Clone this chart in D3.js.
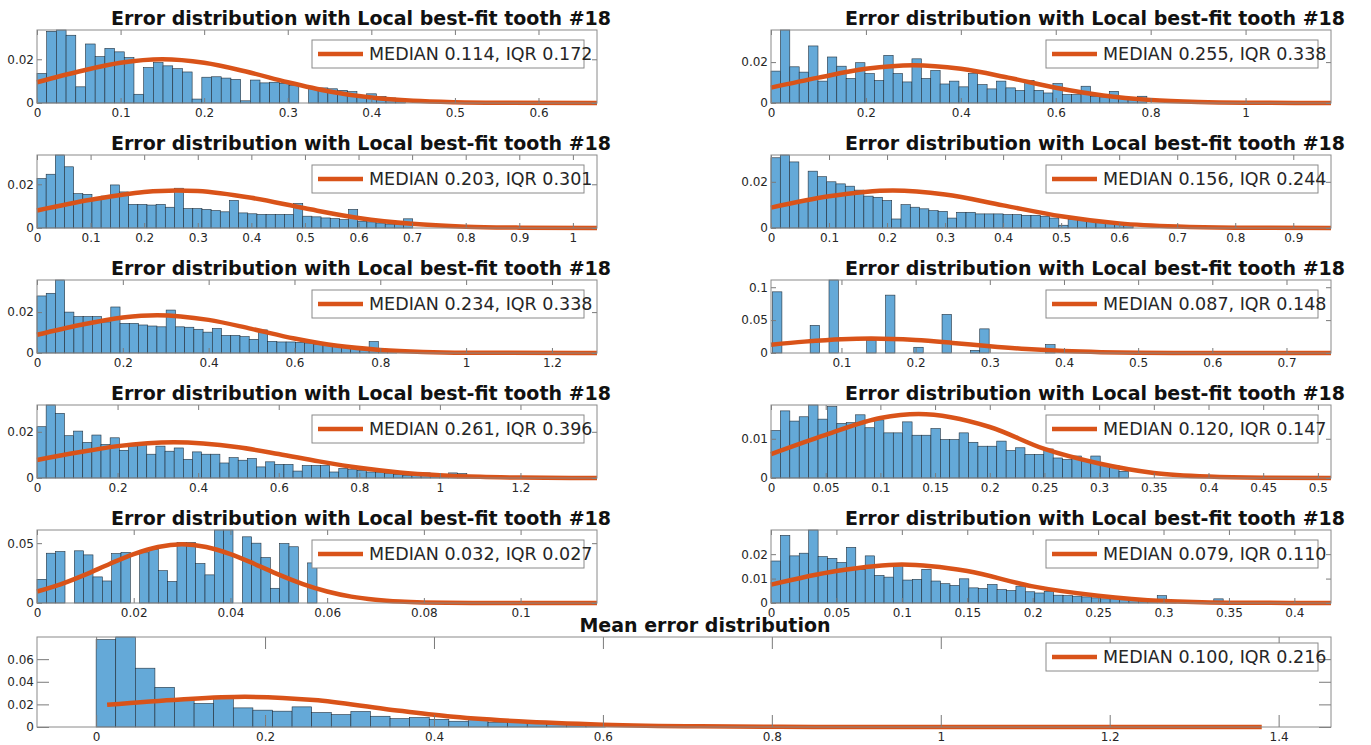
<!DOCTYPE html>
<html>
<head>
<meta charset="utf-8">
<script src="https://cdn.jsdelivr.net/npm/d3@7"></script>
<style>
body{margin:0;background:#fff}
svg{display:block}
</style>
</head>
<body>
<div id="chart"></div>
<script>
// histogram panels, row by row (left, right), then the mean panel last
var panelTitle = "Error distribution with Local best-fit tooth #18";
var meanTitle = "Mean error distribution";
var legendLabels = [
  "MEDIAN 0.114, IQR 0.172", "MEDIAN 0.255, IQR 0.338",
  "MEDIAN 0.203, IQR 0.301", "MEDIAN 0.156, IQR 0.244",
  "MEDIAN 0.234, IQR 0.338", "MEDIAN 0.087, IQR 0.148",
  "MEDIAN 0.261, IQR 0.396", "MEDIAN 0.120, IQR 0.147",
  "MEDIAN 0.032, IQR 0.027", "MEDIAN 0.079, IQR 0.110",
  "MEDIAN 0.100, IQR 0.216"
];
var xDomains = [[0,0.67],[0,1.18],[0,1.045],[0,0.965],[0,1.305],[0.005,0.76],[0,1.39],[0,0.512],[0,0.1158],[0,0.428],[-0.07,1.462]];
var xTicks = [
  [0,0.1,0.2,0.3,0.4,0.5,0.6],
  [0,0.2,0.4,0.6,0.8,1],
  [0,0.1,0.2,0.3,0.4,0.5,0.6,0.7,0.8,0.9,1],
  [0,0.1,0.2,0.3,0.4,0.5,0.6,0.7,0.8,0.9],
  [0,0.2,0.4,0.6,0.8,1,1.2],
  [0.1,0.2,0.3,0.4,0.5,0.6,0.7],
  [0,0.2,0.4,0.6,0.8,1,1.2],
  [0,0.05,0.1,0.15,0.2,0.25,0.3,0.35,0.4,0.45,0.5],
  [0,0.02,0.04,0.06,0.08,0.1],
  [0,0.05,0.1,0.15,0.2,0.25,0.3,0.35,0.4],
  [0,0.2,0.4,0.6,0.8,1,1.2,1.4]
];
var yTicks = [
  [0,0.02],[0,0.02],[0,0.02],[0,0.02],[0,0.02],[0,0.05,0.1],
  [0,0.02],[0,0.01],[0,0.05],[0,0.01,0.02],[0,0.02,0.04,0.06]
];
var binStarts = [0,0,0,0,0,0.007,0,0,0,0,0];
var binWidths = [0.0116,0.0198,0.0171,0.016,0.0215,0.0127,0.0227,0.0086,0.00193,0.0072,0.0232];

var counts1 = [0.0135,0.0328,0.0334,0.031,0.0074,0.027,0.0212,0.025,0.0234,0.0208,0.004,0.0162,0.0185,0.017,0.0157,0.0142,0.0018,0.0118,0.012,0.0114,0.0108,0.001,0.0105,0.0092,0.0095,0.009,0.008,0,0.0072,0.0069,0.0065,0.0058,0.0052,0.0035,0.0042,0.003,0.0023,0.002];
var counts2 = [0.0156,0.0357,0.0177,0.0151,0.0279,0.0107,0.0225,0.018,0.012,0.0197,0.0144,0.011,0.0233,0.0144,0.0103,0.0216,0.012,0.0159,0.0093,0.0107,0.0079,0.0144,0.009,0.0069,0.0107,0.0074,0.0061,0.0111,0.0062,0.0049,0.0095,0.0041,0.0041,0.0082,0.0033,0.003,0.0057,0.0025,0.0016,0.0033];
var counts3 = [0.0226,0.0246,0.0334,0.028,0.0157,0.0154,0.0131,0.0146,0.0197,0.0165,0.0108,0.0108,0.0105,0.0108,0.0095,0.0182,0.0089,0.0089,0.0085,0.008,0.0074,0.0126,0.0069,0.0065,0.0062,0.0062,0.0062,0.0062,0.0112,0.0054,0.0051,0.0046,0.0043,0.0038,0.0085,0.0031,0.0028,0.0023,0.0018,0.0018,0.0042];
var counts4 = [0.0304,0.0316,0.0286,0.012,0.0246,0.0222,0.02,0.0191,0.0181,0.0164,0.0138,0.0133,0.0119,0.0039,0.0101,0.009,0.0083,0.0075,0.0072,0.0043,0.0068,0.0068,0.0061,0.0061,0.0061,0.0058,0.0058,0.0055,0.0055,0.0051,0.0043,0.0012,0.0036,0.0033,0.0029,0.0026,0.0022,0.0017,0.0014];
var counts5 = [0.0279,0.0292,0.0357,0.020,0.0178,0.0178,0.0178,0.0152,0.0225,0.0145,0.0145,0.0137,0.0132,0.0128,0.021,0.0128,0.0126,0.0116,0.0102,0.012,0.0086,0.0086,0.008,0.0067,0.0113,0.0057,0.0054,0.0054,0.0052,0.0049,0.0044,0.004,0.0033,0.003,0.0028,0.0021,0.0056,0.0019,0.0016];
var counts6 = [0.093,0,0,0,0.042,0,0.111,0,0,0,0.019,0,0.088,0,0,0.0087,0,0,0.0587,0,0,0.004,0.0367,0,0,0,0,0,0,0.0128];
var counts7 = [0.0222,0.0316,0.028,0.0183,0.0203,0.0154,0.0186,0.0145,0.0174,0.012,0.0139,0.0149,0.0103,0.0138,0.0116,0.013,0.0081,0.0113,0.0103,0.0103,0.0065,0.0088,0.0077,0.0084,0.0048,0.007,0.0059,0.0059,0.003,0.0054,0.0054,0.0054,0.0026,0.0041,0.0036,0.0033,0.0026,0.0023,0.0019,0.0016,0.0012,0.0023,0.0022,0.0014,0.0012,0.0022,0.0019,0.0007,0.0007];
var counts8 = [0.0121,0.0171,0.0145,0.0156,0.0186,0.015,0.0182,0.0139,0.0141,0.0161,0.0128,0.0148,0.0115,0.0115,0.0143,0.0109,0.0109,0.0126,0.0098,0.0098,0.0115,0.0091,0.0081,0.0081,0.0094,0.007,0.0077,0.006,0.006,0.0074,0.0051,0.0047,0.0056,0.0044,0.0056,0.0034,0.0032,0.0017];
var counts9 = [0.0198,0.0416,0.043,0,0.0436,0.0402,0.0218,0.0184,0.0413,0.0422,0,0.042,0.045,0.027,0.018,0.0506,0.0506,0.033,0.0235,0.061,0.061,0,0.0553,0.05,0.038,0.0123,0.0497,0.047,0,0.0335];
var counts10 = [0.0172,0.0277,0.0193,0.0204,0.0299,0.019,0.0183,0.0166,0.0228,0.0138,0.0193,0.0113,0.0106,0.0156,0.0094,0.0097,0.0138,0.009,0.0079,0.0072,0.0099,0.0062,0.0059,0.0076,0.0055,0.0051,0.0069,0.0046,0.0041,0.0048,0.0032,0.003,0.0028,0.0025,0.0021,0.0017,0.0017,0.0014,0.0011,0.001,0.0007,0.003,0.0007,0,0,0,0.0007,0.0017];
var counts11 = [0.0773,0.0796,0.052,0.0351,0.0244,0.0208,0.0267,0.0169,0.0149,0.014,0.0178,0.0128,0.011,0.0137,0.0095,0.0074,0.0083,0.0068,0.0051,0.0065,0.0039,0.0048,0.0039,0.0027,0.0021,0.0012];

// fitted curves, [x, density]
var fit1 = [[0,0.0095],[0.05,0.0144],[0.1,0.0184],[0.15,0.020],[0.2,0.0184],[0.25,0.0144],[0.3,0.0095],[0.35,0.0053],[0.4,0.0025],[0.45,0.001],[0.5,0.00035],[0.55,0.0001],[0.67,0]];
var fit2 = [[0,0.0075],[0.1,0.0124],[0.2,0.0167],[0.3,0.0185],[0.4,0.0167],[0.5,0.0124],[0.6,0.0075],[0.7,0.0037],[0.8,0.0015],[0.9,0.0005],[1.0,0.00014],[1.18,0]];
var fit3 = [[0,0.008],[0.1,0.0129],[0.2,0.0165],[0.26,0.0172],[0.3,0.0169],[0.4,0.0138],[0.5,0.009],[0.6,0.0046],[0.7,0.0019],[0.8,0.0006],[0.9,0.00017],[1.045,0]];
var fit4 = [[0,0.0088],[0.1,0.0137],[0.21,0.0162],[0.3,0.0145],[0.4,0.0098],[0.5,0.0051],[0.6,0.002],[0.7,0.0006],[0.8,0.00013],[0.965,0]];
var fit5 = [[0,0.0089],[0.1,0.0137],[0.2,0.0174],[0.28,0.0185],[0.4,0.0162],[0.5,0.0118],[0.6,0.0071],[0.7,0.0035],[0.8,0.0015],[0.9,0.0005],[1.0,0.00014],[1.305,0]];
var fit6 = [[0.005,0.0127],[0.05,0.0173],[0.1,0.021],[0.14,0.022],[0.2,0.0197],[0.25,0.0153],[0.3,0.0102],[0.35,0.0059],[0.4,0.0029],[0.45,0.0012],[0.5,0.00045],[0.55,0.00014],[0.76,0]];
var fit7 = [[0,0.0078],[0.1,0.011],[0.2,0.0138],[0.34,0.0155],[0.5,0.0133],[0.6,0.0104],[0.7,0.0072],[0.8,0.0044],[0.9,0.0024],[1.0,0.0012],[1.1,0.0005],[1.2,0.0002],[1.39,0]];
var fit8 = [[0,0.0061],[0.05,0.011],[0.1,0.0153],[0.135,0.0163],[0.2,0.013],[0.25,0.0074],[0.3,0.0037],[0.35,0.0013],[0.4,0.00036],[0.45,0.00007],[0.512,0]];
var fit9 = [[0,0.0096],[0.005,0.0158],[0.01,0.0237],[0.015,0.0326],[0.02,0.0409],[0.025,0.0468],[0.03,0.049],[0.035,0.0468],[0.04,0.0409],[0.045,0.0326],[0.05,0.0237],[0.055,0.0158],[0.06,0.0096],[0.065,0.0053],[0.07,0.0027],[0.075,0.0012],[0.08,0.0005],[0.09,0.00007],[0.1158,0]];
var fit10 = [[0,0.0075],[0.05,0.0131],[0.1,0.0158],[0.15,0.0131],[0.2,0.0068],[0.25,0.003],[0.3,0.0008],[0.35,0.00015],[0.428,0]];
var fit11 = [[0.013,0.0196],[0.1,0.0244],[0.176,0.0267],[0.258,0.0238],[0.342,0.016],[0.416,0.0095],[0.5,0.0051],[0.6,0.0021],[0.716,0.0006],[0.85,0.0001],[1.0,0],[1.38,0]];

var allCounts = [counts1,counts2,counts3,counts4,counts5,counts6,counts7,counts8,counts9,counts10,counts11];
var allFits = [fit1,fit2,fit3,fit4,fit5,fit6,fit7,fit8,fit9,fit10,fit11];

var width = 1371, height = 745;
var fontFam = "'DejaVu Sans', sans-serif";

var svg = d3.select("#chart").append("svg")
  .attr("width", width).attr("height", height);

// layout: two columns of small axes, then one wide axes at the bottom
var colX = [[37,597],[771,1331]];
function boxFor(i){
  if(i == 10) return {x0:37, x1:1331, y0:637, y1:727, tick:12, title:meanTitle, tx:705, ty:632};
  var c = i%2, r = Math.floor(i/2);
  var top = 30 + r*125;
  return {x0:colX[c][0], x1:colX[c][1], y0:top, y1:top+73, tick:5,
          title:panelTitle, tx:(colX[c][0]+colX[c][1])/2+44, ty:top-5};
}

function drawPanel(i){
  var b = boxFor(i);
  var counts = allCounts[i];
  var bw = binWidths[i], b0 = binStarts[i];
  var x = d3.scaleLinear().domain(xDomains[i]).range([b.x0, b.x1]);
  var y = d3.scaleLinear().domain([0, d3.max(counts)]).range([b.y1, b.y0]);
  var g = svg.append("g");

  var bins = counts.map(function(v,k){ return {lo:b0+k*bw, hi:b0+(k+1)*bw, v:v}; })
    .filter(function(d){ return d.v > 0; });

  g.selectAll("rect.bar").data(bins).join("rect")
    .attr("class","bar")
    .attr("x", function(d){ return x(d.lo); })
    .attr("width", function(d){ return x(d.hi)-x(d.lo); })
    .attr("y", function(d){ return y(d.v); })
    .attr("height", function(d){ return y(0)-y(d.v); })
    .attr("fill","#64a9d8")
    .attr("stroke","#22303c")
    .attr("stroke-width",0.6);

  var line = d3.line()
    .x(function(d){ return x(d[0]); })
    .y(function(d){ return y(d[1]); })
    .curve(d3.curveMonotoneX);
  g.append("path").datum(allFits[i])
    .attr("d", line)
    .attr("fill","none")
    .attr("stroke","#d95319")
    .attr("stroke-width",4.5)
    .attr("stroke-linejoin","round");

  // axes, ticks point inward on all four sides
  var fmt = function(v){ return String(v); };
  var axB = g.append("g").attr("transform","translate(0,"+b.y1+")")
    .call(d3.axisBottom(x).tickValues(xTicks[i]).tickFormat(fmt).tickSizeInner(-b.tick).tickSizeOuter(0).tickPadding(5));
  var axT = g.append("g").attr("transform","translate(0,"+b.y0+")")
    .call(d3.axisTop(x).tickValues(xTicks[i]).tickFormat("").tickSizeInner(-b.tick).tickSizeOuter(0));
  var axL = g.append("g").attr("transform","translate("+b.x0+",0)")
    .call(d3.axisLeft(y).tickValues(yTicks[i]).tickFormat(fmt).tickSizeInner(-b.tick).tickSizeOuter(0).tickPadding(3));
  var axR = g.append("g").attr("transform","translate("+b.x1+",0)")
    .call(d3.axisRight(y).tickValues(yTicks[i]).tickFormat("").tickSizeInner(-b.tick).tickSizeOuter(0));
  [axB,axT,axL,axR].forEach(function(a){
    a.select(".domain").remove();
    a.selectAll(".tick line").attr("stroke","#7a7a7a");
    a.selectAll(".tick text").attr("fill","#262626")
      .style("font-family", fontFam).style("font-size","12px");
  });

  g.append("rect")
    .attr("x",b.x0).attr("y",b.y0)
    .attr("width",b.x1-b.x0).attr("height",b.y1-b.y0)
    .attr("fill","none").attr("stroke","#8a8a8a").attr("stroke-width",1);

  g.append("text")
    .attr("x",b.tx).attr("y",b.ty)
    .attr("text-anchor","middle")
    .style("font-family",fontFam).style("font-size","19px").style("font-weight","bold")
    .attr("fill","#111")
    .text(b.title);

  // legend
  var lx = b.x1-285, ly = b.y0 + (i==10 ? 6 : 10);
  var lg = g.append("g");
  lg.append("rect").attr("x",lx).attr("y",ly).attr("width",272).attr("height",28)
    .attr("fill","#fff").attr("stroke","#8a8a8a").attr("stroke-width",1);
  lg.append("line").attr("x1",lx+6).attr("x2",lx+51).attr("y1",ly+14).attr("y2",ly+14)
    .attr("stroke","#d95319").attr("stroke-width",4.5);
  lg.append("text").attr("x",lx+57).attr("y",ly+14).attr("dy","0.36em")
    .style("font-family",fontFam).style("font-size","17.5px")
    .attr("fill","#262626")
    .text(legendLabels[i]);
}

for(var i=0;i<11;i++) drawPanel(i);
</script>
</body>
</html>
